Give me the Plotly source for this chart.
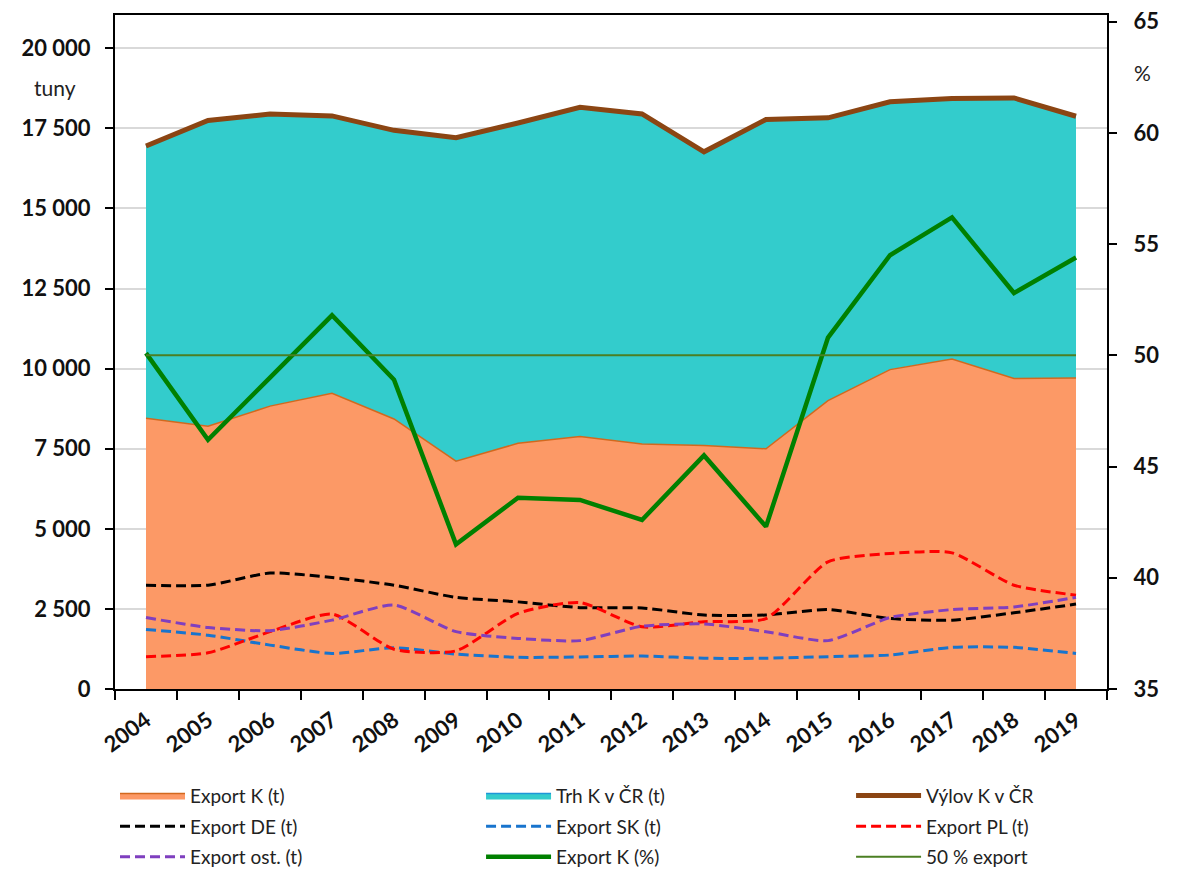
import plotly.graph_objects as go

years = ["2004", "2005", "2006", "2007", "2008", "2009", "2010", "2011",
         "2012", "2013", "2014", "2015", "2016", "2017", "2018", "2019"]

# tuny
export_k = [8450, 8200, 8830, 9230, 8430, 7110, 7670, 7880, 7650, 7600, 7500, 9000, 9970, 10300, 9690, 9710]
trh_k = [8500, 9550, 9120, 8660, 9010, 10100, 10000, 10280, 10300, 9170, 10280, 8830, 8360, 8130, 8760, 8170]
vylov_k = [16950, 17750, 17950, 17890, 17440, 17210, 17670, 18160, 17950, 16770, 17780, 17830, 18330, 18430, 18450, 17880]
export_de = [3240, 3240, 3620, 3480, 3240, 2860, 2720, 2540, 2530, 2310, 2310, 2480, 2200, 2150, 2380, 2650]
export_sk = [1860, 1680, 1370, 1110, 1290, 1090, 990, 1000, 1030, 960, 960, 1010, 1060, 1300, 1300, 1110]
export_pl = [1010, 1130, 1790, 2340, 1240, 1190, 2360, 2700, 1940, 2100, 2200, 3970, 4230, 4250, 3240, 2930]
export_ost = [2230, 1920, 1820, 2150, 2620, 1790, 1580, 1510, 1960, 2030, 1790, 1510, 2230, 2480, 2560, 2860]

# %
export_pct = [50.1, 46.2, 49.0, 51.8, 48.9, 41.5, 43.6, 43.5, 42.6, 45.5, 42.3, 50.8, 54.5, 56.2, 52.8, 54.4]
limit_50 = [50, 50, 50, 50, 50, 50, 50, 50, 50, 50, 50, 50, 50, 50, 50, 50]

left_ticks = [0, 2500, 5000, 7500, 10000, 12500, 15000, 17500, 20000]

FONT = "Lato"
DASH = "10px,5px"
TICKFONT = dict(family=FONT, size=22, weight="bold", color="#111")

fig = go.Figure()

fig.add_trace(go.Scatter(x=years, y=export_k, name="Export K (t)", stackgroup="one",
                         mode="lines", line=dict(color="#D2691E", width=1.5),
                         fillcolor="#FC9966", legend="legend", legendgroup="a1"))
fig.add_trace(go.Scatter(x=years, y=trh_k, name="Trh K v ČR (t)", stackgroup="one",
                         mode="lines", line=dict(color="#1E96D8", width=1.5),
                         fillcolor="#33CCCC", legend="legend2", legendgroup="b1"))
fig.add_trace(go.Scatter(x=years, y=vylov_k, name="Výlov K v ČR", mode="lines",
                         line=dict(color="#8B4513", width=5),
                         legend="legend3", legendgroup="c1"))
fig.add_trace(go.Scatter(x=years, y=export_de, name="Export DE (t)", mode="lines",
                         line=dict(color="black", width=3, dash=DASH, shape="spline", smoothing=0.6),
                         legend="legend", legendgroup="a2"))
fig.add_trace(go.Scatter(x=years, y=export_sk, name="Export SK (t)", mode="lines",
                         line=dict(color="#1874CD", width=3, dash=DASH, shape="spline", smoothing=0.6),
                         legend="legend2", legendgroup="b2"))
fig.add_trace(go.Scatter(x=years, y=export_pl, name="Export PL (t)", mode="lines",
                         line=dict(color="#FF0000", width=3, dash=DASH, shape="spline", smoothing=0.6),
                         legend="legend3", legendgroup="c2"))
fig.add_trace(go.Scatter(x=years, y=export_ost, name="Export ost. (t)", mode="lines",
                         line=dict(color="#7F3FBF", width=3, dash=DASH, shape="spline", smoothing=0.6),
                         legend="legend", legendgroup="a3"))
fig.add_trace(go.Scatter(x=years, y=export_pct, name="Export K (%)", mode="lines",
                         line=dict(color="#008000", width=4.5), yaxis="y2",
                         legend="legend2", legendgroup="b3"))
fig.add_trace(go.Scatter(x=years, y=limit_50, name="50 % export", mode="lines",
                         line=dict(color="#4B7F23", width=2), yaxis="y2",
                         legend="legend3", legendgroup="c3"))


def legend_box(x):
    return dict(x=x, y=-0.13, xanchor="left", yanchor="top", orientation="v",
                font=dict(family=FONT, size=19, color="#222"), itemwidth=65,
                traceorder="grouped", tracegroupgap=3, bgcolor="rgba(0,0,0,0)")


# page body adds an 8 px offset, so the figure is 8 px smaller than the window
fig.update_layout(
    width=1171,
    height=863,
    margin=dict(l=107, r=72, t=7, b=182, autoexpand=False),
    plot_bgcolor="white",
    paper_bgcolor="white",
    separators=", ",
    font=dict(family=FONT, color="#222"),
    xaxis=dict(
        type="category",
        range=[-0.5, 15.5],
        tickson="boundaries",
        ticks="outside",
        ticklen=9,
        tickcolor="black",
        tickwidth=2,
        tickangle=-36,
        tickfont=TICKFONT,
        ticklabelstandoff=8,
        showline=True,
        linecolor="black",
        linewidth=2,
        mirror=True,
        showgrid=False,
        automargin=False,
    ),
    yaxis=dict(
        range=[0, 21040],
        tickvals=left_ticks,
        tickformat=",d",
        ticks="outside",
        ticklen=8,
        tickcolor="black",
        tickwidth=2,
        tickfont=TICKFONT,
        ticklabelstandoff=10,
        showline=True,
        linecolor="black",
        linewidth=2,
        showgrid=True,
        gridcolor="#D9D9D9",
        gridwidth=1.5,
        zeroline=False,
        automargin=False,
    ),
    yaxis2=dict(
        range=[35, 65.3],
        dtick=5,
        overlaying="y",
        side="right",
        ticks="outside",
        ticklen=8,
        tickcolor="black",
        tickwidth=2,
        tickfont=TICKFONT,
        ticklabelstandoff=12,
        ticklabeloverflow="allow",
        showline=True,
        linecolor="black",
        linewidth=2,
        showgrid=False,
        zeroline=False,
        automargin=False,
    ),
    legend=legend_box(0.0),
    legend2=legend_box(0.369),
    legend3=legend_box(0.742),
    annotations=[
        dict(text="tuny", xref="paper", yref="paper", x=-0.06, y=0.893,
             xanchor="center", yanchor="middle",
             showarrow=False, font=dict(family=FONT, size=21, color="#222")),
        dict(text="%", xref="paper", yref="paper", x=1.036, y=0.915,
             xanchor="center", yanchor="middle",
             showarrow=False, font=dict(family=FONT, size=21, color="#222")),
    ],
)

fig.write_html("out.html")
